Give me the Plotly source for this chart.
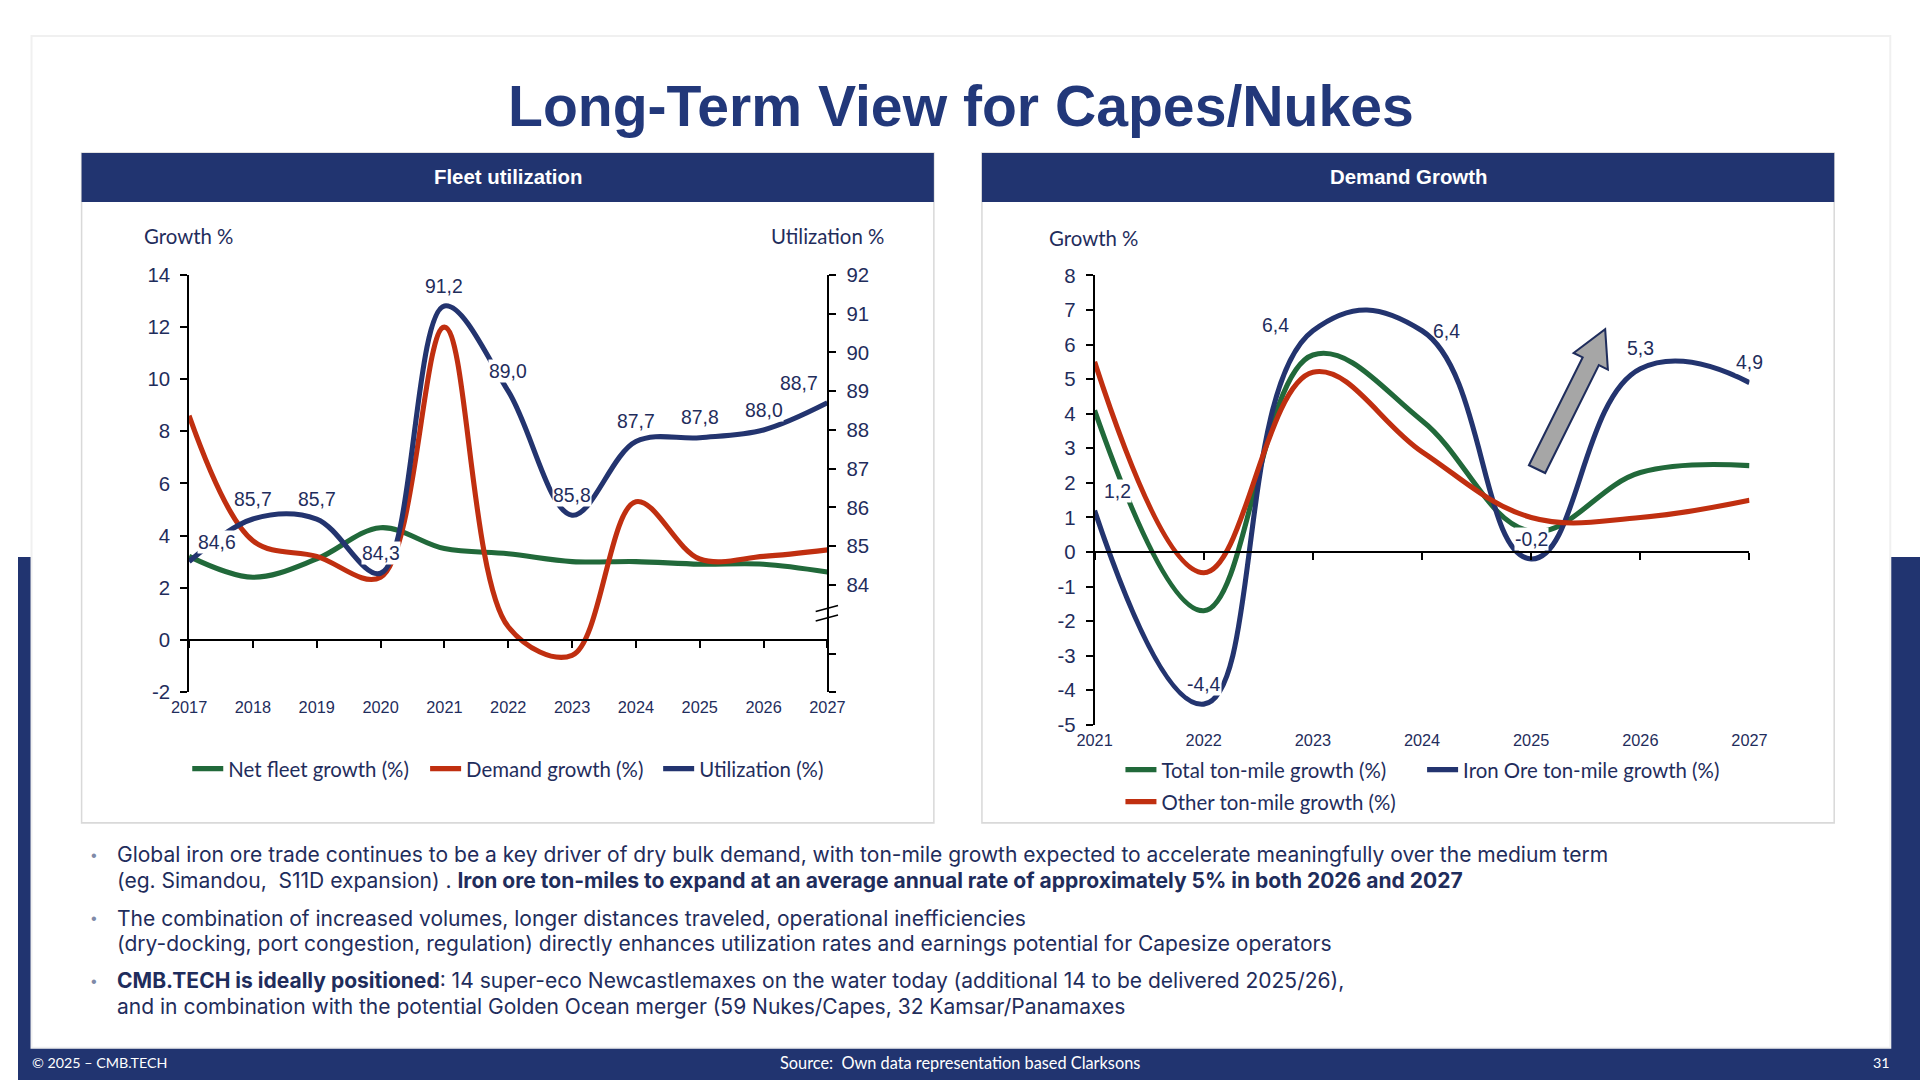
import plotly.graph_objects as go

# The photographed page shows the figure at 0.98 scale, offset (18.5, 11) px.
# The layout below is designed in 1920x1080 screen pixels and mapped into figure pixels.
K = 0.98
OFFX, OFFY = 18.5, 11.0
FW, FH = 1942, 1091
S = 1 / K

# ---------------- data ----------------
YEARS_FLEET = [2017, 2018, 2019, 2020, 2021, 2022, 2023, 2024, 2025, 2026, 2027]
NET_FLEET_GROWTH = [3.2, 2.4, 3.1, 4.3, 3.5, 3.3, 3.0, 3.0, 2.9, 2.9, 2.6]
DEMAND_GROWTH = [8.6, 3.8, 3.2, 2.4, 12.0, 0.5, -0.6, 5.3, 3.1, 3.2, 3.45]
UTILIZATION = [84.6, 85.7, 85.7, 84.3, 91.2, 89.0, 85.8, 87.7, 87.8, 88.0, 88.7]

YEARS_DEMAND = [2021, 2022, 2023, 2024, 2025, 2026, 2027]
TOTAL_TONMILE = [4.1, -1.7, 5.7, 3.8, 0.6, 2.3, 2.5]
IRON_ORE_TONMILE = [1.2, -4.4, 6.4, 6.4, -0.2, 5.3, 4.9]
OTHER_TONMILE = [5.5, -0.6, 5.2, 2.9, 1.0, 1.0, 1.5]

GROWTH_TICKS_LEFT = [-2, 0, 2, 4, 6, 8, 10, 12, 14]
UTIL_TICKS = [84, 85, 86, 87, 88, 89, 90, 91, 92]
GROWTH_TICKS_RIGHT = [-5, -4, -3, -2, -1, 0, 1, 2, 3, 4, 5, 6, 7, 8]

# label placement (style only)
UTIL_LABEL_POS = ["right", "above", "above", "above", "above", "above", "above", "above", "above", "above", "left"]
IRON_LABEL_POS = ["right", "above", "left", "right", "above", "above", "above"]

TITLE = "Long-Term View for Capes/Nukes"
BULLETS = [
    ["Global iron ore trade continues to be a key driver of dry bulk demand, with ton-mile growth expected to accelerate meaningfully over the medium term",
     "(eg. Simandou,  S11D expansion) . <b>Iron ore ton-miles to expand at an average annual rate of approximately 5% in both 2026 and 2027</b>"],
    ["The combination of increased volumes, longer distances traveled, operational inefficiencies",
     "(dry-docking, port congestion, regulation) directly enhances utilization rates and earnings potential for Capesize operators"],
    ["<b>CMB.TECH is ideally positioned</b>: 14 super-eco Newcastlemaxes on the water today (additional 14 to be delivered 2025/26),",
     "and in combination with the potential Golden Ocean merger (59 Nukes/Capes, 32 Kamsar/Panamaxes"],
]

# ---------------- style ----------------
NAVY = "#213470"
TEXT = "#1f2d5c"
GREEN = "#21693a"
RED = "#c02f10"
BLUE = "#23346f"
SANS = "Liberation Sans, Arial, sans-serif"
CAL = "Lato, Liberation Sans, sans-serif"
BODY = "Inter, Liberation Sans, sans-serif"


def s(v):
    return v * S


LW = s(5)


def px(x):
    return ((x - OFFX) * S) / FW


def py(y):
    return 1 - ((y - OFFY) * S) / FH


def fmt(v):
    return f"{v:.1f}".replace(".", ",")


def tick_text(vals):
    return [str(v) for v in vals]


fig = go.Figure()

# ---- left chart traces ----
fig.add_trace(go.Scatter(x=YEARS_FLEET, y=NET_FLEET_GROWTH, mode="lines", name="Net fleet growth (%)",
                         line=dict(color=GREEN, width=LW, shape="spline", smoothing=1.0),
                         xaxis="x", yaxis="y", legend="legend", hoverinfo="skip"))
fig.add_trace(go.Scatter(x=YEARS_FLEET, y=DEMAND_GROWTH, mode="lines", name="Demand growth (%)",
                         line=dict(color=RED, width=LW, shape="spline", smoothing=1.0),
                         xaxis="x", yaxis="y", legend="legend2", hoverinfo="skip"))
fig.add_trace(go.Scatter(x=YEARS_FLEET, y=UTILIZATION, mode="lines", name="Utilization (%)",
                         line=dict(color=BLUE, width=LW, shape="spline", smoothing=1.0),
                         xaxis="x", yaxis="y2", legend="legend3", hoverinfo="skip"))
fig.add_trace(go.Scatter(x=YEARS_FLEET, y=[None] * len(YEARS_FLEET), mode="lines", showlegend=False,
                         xaxis="x2", yaxis="y", hoverinfo="skip"))

# ---- right chart traces ----
fig.add_trace(go.Scatter(x=YEARS_DEMAND, y=TOTAL_TONMILE, mode="lines", name="Total ton-mile growth (%)",
                         line=dict(color=GREEN, width=LW, shape="spline", smoothing=1.1),
                         xaxis="x3", yaxis="y3", legend="legend4", hoverinfo="skip"))
fig.add_trace(go.Scatter(x=YEARS_DEMAND, y=IRON_ORE_TONMILE, mode="lines", name="Iron Ore ton-mile growth (%)",
                         line=dict(color=BLUE, width=LW, shape="spline", smoothing=1.3),
                         xaxis="x3", yaxis="y3", legend="legend5", hoverinfo="skip"))
fig.add_trace(go.Scatter(x=YEARS_DEMAND, y=OTHER_TONMILE, mode="lines", name="Other ton-mile growth (%)",
                         line=dict(color=RED, width=LW, shape="spline", smoothing=1.1),
                         xaxis="x3", yaxis="y3", legend="legend6", hoverinfo="skip"))
fig.add_trace(go.Scatter(x=YEARS_DEMAND, y=[None] * len(YEARS_DEMAND), mode="lines", showlegend=False,
                         xaxis="x4", yaxis="y3", hoverinfo="skip"))

# ---- geometry (screen pixels) ----
L_X0, L_X1, L_Y0, L_Y1 = 189.3, 826.7, 275.0, 692.0
R_X0, R_X1, R_Y0, R_Y1 = 1093.5, 1747.4, 275.5, 725.0
L_ZERO = L_Y0 + (14 - 0) * (L_Y1 - L_Y0) / 16
R_ZERO = R_Y0 + (8 - 0) * (R_Y1 - R_Y0) / 13
UTIL_MIN = 84 - (L_Y1 - 585.0) / ((585.0 - L_Y0) / 8)
BAND_TOP = 557

axis_common = dict(showgrid=False, zeroline=False, linecolor="black", linewidth=s(1.5),
                   tickcolor="black", tickwidth=s(1.5), ticklen=s(7))
tickfont_y = dict(family=SANS, size=s(20), color=TEXT)
tickfont_x = dict(family=SANS, size=s(16), color=TEXT)
SO_X = int(round(s(4)))
SO_Y = int(round(s(6)))

fig.update_layout(
    width=FW, height=FH, margin=dict(l=0, r=0, t=0, b=0),
    paper_bgcolor="white", plot_bgcolor="rgba(0,0,0,0)",
    xaxis=dict(domain=[px(L_X0), px(L_X1)], anchor="y", range=[2017, 2027], tickvals=YEARS_FLEET,
               showline=False, ticks="", showgrid=False, zeroline=False, tickfont=tickfont_x,
               ticklabelstandoff=SO_X),
    xaxis2=dict(domain=[px(L_X0), px(L_X1)], overlaying="x", anchor="free", position=py(L_ZERO),
                range=[2017, 2027], tickvals=YEARS_FLEET, showticklabels=False, showline=True,
                ticks="outside", side="bottom", **axis_common),
    yaxis=dict(domain=[py(L_Y1), py(L_Y0)], anchor="x", range=[-2, 14], tickvals=GROWTH_TICKS_LEFT,
               ticktext=tick_text(GROWTH_TICKS_LEFT),
               showline=True, ticks="outside", tickfont=tickfont_y, ticklabelstandoff=SO_Y, **axis_common),
    yaxis2=dict(domain=[py(L_Y1), py(L_Y0)], overlaying="y", anchor="x", side="right",
                range=[UTIL_MIN, 92], tickvals=[UTIL_MIN, 82.22] + UTIL_TICKS,
                ticktext=["", ""] + tick_text(UTIL_TICKS),
                showline=True, ticks="outside", tickfont=tickfont_y, ticklabelstandoff=SO_Y, **axis_common),
    xaxis3=dict(domain=[px(R_X0), px(R_X1)], anchor="y3", range=[2021, 2027], tickvals=YEARS_DEMAND,
                showline=False, ticks="", showgrid=False, zeroline=False, tickfont=tickfont_x,
                ticklabelstandoff=SO_X),
    xaxis4=dict(domain=[px(R_X0), px(R_X1)], overlaying="x3", anchor="free", position=py(R_ZERO),
                range=[2021, 2027], tickvals=YEARS_DEMAND, showticklabels=False, showline=True,
                ticks="outside", side="bottom", **axis_common),
    yaxis3=dict(domain=[py(R_Y1), py(R_Y0)], anchor="x3", range=[-5, 8], tickvals=GROWTH_TICKS_RIGHT,
                ticktext=tick_text(GROWTH_TICKS_RIGHT),
                showline=True, ticks="outside", tickfont=tickfont_y, ticklabelstandoff=SO_Y, **axis_common),
)

# ---- legends: one per entry for exact placement ----
legend_font = dict(family=CAL, size=s(20), color=TEXT)
legend_spots = {
    "legend": (193.5, 769), "legend2": (431, 769), "legend3": (663.7, 769),
    "legend4": (1125.3, 770), "legend5": (1426.5, 770), "legend6": (1125.3, 802),
}
for name, (lx, ly) in legend_spots.items():
    fig.update_layout({name: dict(x=px(lx - 6), y=py(ly), xanchor="left", yanchor="middle",
                                  orientation="h", font=legend_font, bgcolor="rgba(0,0,0,0)",
                                  borderwidth=0, itemwidth=31)})

shapes = []
annotations = []

# background: navy lower band, white card
shapes.append(dict(type="rect", xref="paper", yref="paper", x0=0, x1=1, y0=0, y1=py(BAND_TOP),
                   fillcolor=NAVY, line=dict(width=0), layer="below"))
shapes.append(dict(type="rect", xref="paper", yref="paper", x0=px(31), x1=px(1889), y0=py(1049), y1=py(35),
                   fillcolor="#f0f0f0", line=dict(width=0), layer="below"))
shapes.append(dict(type="rect", xref="paper", yref="paper", x0=px(33), x1=px(1887), y0=py(1047), y1=py(37),
                   fillcolor="white", line=dict(width=0), layer="below"))

# panels
for (x0, x1, head) in [(82, 933, "Fleet utilization"), (981, 1832, "Demand Growth")]:
    shapes.append(dict(type="rect", xref="paper", yref="paper", x0=px(x0), x1=px(x1), y0=py(823), y1=py(153),
                       fillcolor="white", line=dict(color="#d9d9d9", width=s(1.5)), layer="below"))
    shapes.append(dict(type="rect", xref="paper", yref="paper", x0=px(x0), x1=px(x1), y0=py(202), y1=py(153),
                       fillcolor=NAVY, line=dict(width=0), layer="below"))
    annotations.append(dict(xref="paper", yref="paper", x=px((x0 + x1) / 2), y=py(177.5), text=f"<b>{head}</b>",
                            showarrow=False, font=dict(family=SANS, size=s(20), color="white"),
                            xanchor="center", yanchor="middle"))

# title
annotations.append(dict(xref="paper", yref="paper", x=px(960), y=py(106), text=f"<b>{TITLE}</b>", showarrow=False,
                        font=dict(family=SANS, size=s(56), color="#22387a"), xanchor="center", yanchor="middle"))

# axis titles
for (x, y, t) in [(188.6, 236.3, "Growth %"), (826.5, 236.3, "Utilization %"), (1092, 237.6, "Growth %")]:
    annotations.append(dict(xref="paper", yref="paper", x=px(x), y=py(y), text=t, showarrow=False,
                            font=dict(family=CAL, size=s(20), color=TEXT), xanchor="center", yanchor="middle"))

# axis break marks (left chart, right axis)
for dy in (0, 9.5):
    shapes.append(dict(type="line", xref="paper", yref="paper", x0=px(815), y0=py(611.7 + dy),
                       x1=px(837.3), y1=py(605.7 + dy), line=dict(color="black", width=s(1.5))))


def label(xv, yv, pos, xref, yref):
    d = dict(x=xv, y=yv, xref=xref, yref=yref, text=fmt(yv), showarrow=False,
             font=dict(family=SANS, size=s(19), color=TEXT), bgcolor="white", borderpad=0)
    if pos == "above":
        d.update(xanchor="center", yanchor="middle", yshift=s(20))
    elif pos == "right":
        d.update(xanchor="left", yanchor="middle", xshift=s(8), yshift=s(19))
    elif pos == "left":
        d.update(xanchor="right", yanchor="middle", xshift=s(-8), yshift=s(19))
    return d


for xv, yv, pos in zip(YEARS_FLEET, UTILIZATION, UTIL_LABEL_POS):
    annotations.append(label(xv, yv, pos, "x", "y2"))

for i, (xv, yv, pos) in enumerate(zip(YEARS_DEMAND, IRON_ORE_TONMILE, IRON_LABEL_POS)):
    d = label(xv, yv, pos, "x3", "y3")
    if pos == "left":
        d.update(xshift=s(-22), yshift=s(6))
    if pos == "right" and i > 0:
        d.update(xshift=s(10), yshift=0, bgcolor="rgba(0,0,0,0)")
    annotations.append(d)

# gray arrow (decoration)
arrow_pts = [(1527.2, 465.3), (1580.8, 357.4), (1571.8, 353.0), (1603.3, 329.3),
             (1606.0, 369.6), (1597.0, 365.2), (1543.4, 473.1)]
path = "M " + " L ".join(f"{px(x):.5f},{py(y):.5f}" for x, y in arrow_pts) + " Z"
shapes.append(dict(type="path", xref="paper", yref="paper", path=path, fillcolor="#a6a6a6",
                   line=dict(color=TEXT, width=s(2))))

# bullets
line_ys = [(854.7, 880.4), (918.4, 944.1), (980.8, 1006.5)]
for (l1, l2), (y1, y2) in zip(BULLETS, line_ys):
    annotations.append(dict(xref="paper", yref="paper", x=px(89), y=py(y1), text="•", showarrow=False,
                            font=dict(family=SANS, size=s(16), color="#7f8aa8"), xanchor="left", yanchor="middle"))
    for t, yy in ((l1, y1), (l2, y2)):
        annotations.append(dict(xref="paper", yref="paper", x=px(115), y=py(yy), text=t, showarrow=False,
                                font=dict(family=BODY, size=s(20.6), color=TEXT), xanchor="left", yanchor="middle"))

# footer
annotations.append(dict(xref="paper", yref="paper", x=px(30), y=py(1063), text="© 2025 – CMB.TECH",
                        showarrow=False, font=dict(family=CAL, size=s(14), color="white"),
                        xanchor="left", yanchor="middle"))
annotations.append(dict(xref="paper", yref="paper", x=px(959), y=py(1063),
                        text="Source:  Own data representation based Clarksons",
                        showarrow=False, font=dict(family=CAL, size=s(16), color="white"),
                        xanchor="center", yanchor="middle"))
annotations.append(dict(xref="paper", yref="paper", x=px(1890), y=py(1063), text="31",
                        showarrow=False, font=dict(family=CAL, size=s(14), color="white"),
                        xanchor="right", yanchor="middle"))

fig.update_layout(shapes=shapes, annotations=annotations)

page_bg = (f"linear-gradient(to bottom, #ffffff 0px, #ffffff {BAND_TOP}px, "
           f"{NAVY} {BAND_TOP}px, {NAVY} 100%)")
fig.write_html(
    "out.html",
    config={"displayModeBar": False},
    post_script=("document.body.style.margin='0';document.body.style.padding='0';"
                 "document.body.style.overflow='hidden';document.documentElement.style.overflow='hidden';"
                 "document.documentElement.style.minHeight='100%';"
                 f"document.documentElement.style.background='{page_bg}';"),
)
